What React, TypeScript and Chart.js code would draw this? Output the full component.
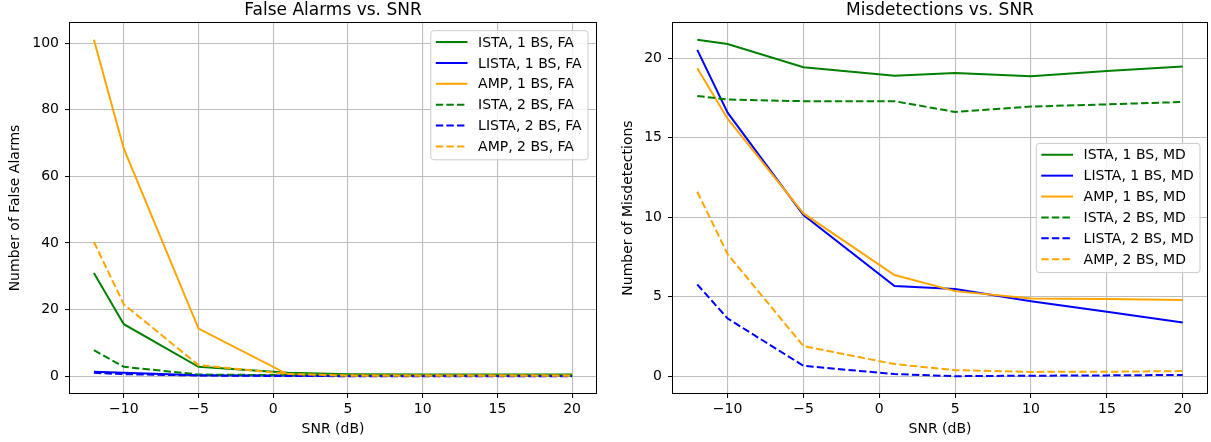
import React, { useEffect, useRef } from "react";
import { Chart, registerables } from "chart.js";

Chart.register(...registerables);

const FONT = "'DejaVu Sans', sans-serif";

// ---- data ----
const snr = [-12, -10, -5, 1, 5, 10, 15, 20];
const snrTicks = [-10, -5, 0, 5, 10, 15, 20];
const faTicks = [0, 20, 40, 60, 80, 100];
const mdTicks = [0, 5, 10, 15, 20];

const faLabels = ["ISTA, 1 BS, FA", "LISTA, 1 BS, FA", "AMP, 1 BS, FA", "ISTA, 2 BS, FA", "LISTA, 2 BS, FA", "AMP, 2 BS, FA"];
const mdLabels = ["ISTA, 1 BS, MD", "LISTA, 1 BS, MD", "AMP, 1 BS, MD", "ISTA, 2 BS, MD", "LISTA, 2 BS, MD", "AMP, 2 BS, MD"];

const istaFa1 = [31, 15.6, 2.8, 1.0, 0.6, 0.5, 0.5, 0.5];
const listaFa1 = [1.3, 1.0, 0.3, 0.2, 0.1, 0.1, 0.1, 0.1];
const ampFa1 = [101, 68.3, 14.3, 0.5, 0.3, 0.3, 0.3, 0.3];
const istaFa2 = [7.8, 2.8, 0.5, 0.3, 0.2, 0.2, 0.2, 0.2];
const listaFa2 = [1.0, 0.6, 0.2, 0.05, 0, 0, 0, 0];
const ampFa2 = [40.3, 21.6, 3.3, 0.7, 0.1, 0.1, 0.1, 0.1];

const istaMd1 = [21.16, 20.9, 19.44, 18.9, 19.08, 18.87, 19.2, 19.48];
const listaMd1 = [20.53, 16.58, 10.14, 5.67, 5.48, 4.72, 4.05, 3.38];
const ampMd1 = [19.37, 16.2, 10.24, 6.36, 5.35, 4.89, 4.85, 4.8];
const istaMd2 = [17.63, 17.4, 17.3, 17.3, 16.62, 16.96, 17.1, 17.25];
const listaMd2 = [5.77, 3.63, 0.65, 0.13, 0, 0.03, 0.05, 0.08];
const ampMd2 = [11.6, 7.68, 1.89, 0.76, 0.38, 0.27, 0.28, 0.32];

const seriesColors = ["#008000", "#0000ff", "#ffa500", "#008000", "#0000ff", "#ffa500"];
const seriesDashed = [false, false, false, true, true, true];

// ---- helpers ----
const fmt = (v: number) => String(v).replace("-", "\u2212");

function paddedRange(arrs: number[][]) {
  const all = arrs.flat();
  const mn = Math.min(...all);
  const mx = Math.max(...all);
  const p = (mx - mn) * 0.05;
  return [mn - p, mx + p];
}

const DASH = [7.4, 3.2];

const framePlugin = {
  id: "mplFrame",
  afterDatasetsDraw(chart: any) {
    const { ctx, chartArea: a } = chart;
    ctx.save();
    ctx.strokeStyle = "#000";
    ctx.lineWidth = 1;
    const l = Math.round(a.left) - 0.5;
    const t = Math.round(a.top) - 0.5;
    const r = Math.round(a.right) + 0.5;
    const b = Math.round(a.bottom) + 0.5;
    ctx.strokeRect(l, t, r - l, b - t);
    ctx.restore();
  },
};

const titlePlugin = {
  id: "mplTitle",
  afterDraw(chart: any, _args: any, opts: any) {
    const { ctx, chartArea: a } = chart;
    ctx.save();
    ctx.font = `17px ${FONT}`;
    ctx.fillStyle = "#000";
    ctx.textAlign = "center";
    ctx.textBaseline = "middle";
    ctx.fillText(opts.text, (a.left + a.right) / 2, opts.y);
    ctx.restore();
  },
};

const legendPlugin = {
  id: "mplLegend",
  afterDraw(chart: any, _args: any, opts: any) {
    const { ctx, chartArea: a } = chart;
    const ds = chart.data.datasets;
    ctx.save();
    ctx.font = `14px ${FONT}`;
    const tw = Math.max(...ds.map((d: any) => ctx.measureText(d.label).width));
    const padL = 5, lineLen = 31.7, gap = 10.6, padR = 6.3;
    const rowH = 20.9, padT = 11.3, padB = 13.3;
    const w = padL + lineLen + gap + tw + padR;
    const h = padT + rowH * (ds.length - 1) + padB;
    const x = a.right - opts.dx - w;
    const y = opts.loc === "upper right" ? a.top + opts.dy : (a.top + a.bottom) / 2 - h / 2;
    ctx.beginPath();
    ctx.roundRect(x, y, w, h, 3);
    ctx.fillStyle = "rgba(255,255,255,0.8)";
    ctx.fill();
    ctx.strokeStyle = "#cccccc";
    ctx.lineWidth = 1;
    ctx.stroke();
    ds.forEach((d: any, i: number) => {
      const ry = y + padT + i * rowH;
      ctx.beginPath();
      ctx.setLineDash(d.borderDash || []);
      ctx.strokeStyle = d.borderColor;
      ctx.lineWidth = 2;
      ctx.moveTo(x + padL, ry);
      ctx.lineTo(x + padL + lineLen, ry);
      ctx.stroke();
      ctx.setLineDash([]);
      ctx.fillStyle = "#000";
      ctx.textAlign = "left";
      ctx.textBaseline = "middle";
      ctx.fillText(d.label, x + padL + lineLen + gap, ry + 1);
    });
    ctx.restore();
  },
};

function makeConfig(p: {
  labels: string[];
  series: number[][];
  yTicks: number[];
  yTitle: string;
  title: string;
  yAxisWidth: number;
  yTitlePad: number;
  padRight: number;
  legend: any;
}) {
  const [ymin, ymax] = paddedRange(p.series);
  const [xmin, xmax] = paddedRange([snr]);
  const gridStyle = { color: "#bdbdbd", lineWidth: 1.1, tickColor: "#000", tickLength: 5, tickWidth: 1 };
  return {
    type: "line",
    data: {
      datasets: p.series.map((vals, i) => ({
        label: p.labels[i],
        data: snr.map((x, j) => ({ x, y: vals[j] })),
        borderColor: seriesColors[i],
        backgroundColor: seriesColors[i],
        borderWidth: 2,
        borderDash: seriesDashed[i] ? DASH : [],
        pointRadius: 0,
        tension: 0,
        fill: false,
        order: -i,
      })),
    },
    options: {
      animation: false,
      responsive: true,
      maintainAspectRatio: false,
      layout: { padding: { top: 23, right: p.padRight, left: 0, bottom: 0 } },
      plugins: {
        legend: { display: false },
        tooltip: { enabled: false },
        title: { display: false },
        mplTitle: { text: p.title, y: 11 },
        mplLegend: p.legend,
      },
      scales: {
        x: {
          type: "linear",
          min: xmin,
          max: xmax,
          afterFit: (s: any) => { s.height = 49; },
          afterBuildTicks: (s: any) => { s.ticks = snrTicks.map((v) => ({ value: v })); },
          ticks: {
            callback: (v: number) => fmt(v),
            color: "#000",
            font: { family: FONT, size: 14 },
            padding: 3,
            maxRotation: 0,
            autoSkip: false,
          },
          grid: gridStyle,
          border: { display: false },
          title: { display: true, text: "SNR (dB)", color: "#000", font: { family: FONT, size: 14 }, padding: { top: 4.6, bottom: 4.6 } },
        },
        y: {
          type: "linear",
          min: ymin,
          max: ymax,
          afterFit: (s: any) => { s.width = p.yAxisWidth; },
          afterBuildTicks: (s: any) => { s.ticks = p.yTicks.map((v) => ({ value: v })); },
          ticks: {
            callback: (v: number) => fmt(v),
            color: "#000",
            font: { family: FONT, size: 14 },
            padding: 6,
            autoSkip: false,
          },
          grid: gridStyle,
          border: { display: false },
          title: { display: true, text: p.yTitle, color: "#000", font: { family: FONT, size: 14 }, padding: { top: p.yTitlePad, bottom: 4 } },
        },
      },
    },
    plugins: [framePlugin, titlePlugin, legendPlugin],
  };
}

function Panel({ left, width, config }: { left: number; width: number; config: any }) {
  const ref = useRef<HTMLCanvasElement | null>(null);
  useEffect(() => {
    if (!ref.current) return;
    const chart = new Chart(ref.current, config);
    return () => chart.destroy();
  }, []);
  return (
    <div style={{ position: "absolute", left, top: 0, width, height: 442 }}>
      <canvas ref={ref} />
    </div>
  );
}

export default function App() {
  const faCfg = makeConfig({
    labels: faLabels,
    series: [istaFa1, listaFa1, ampFa1, istaFa2, listaFa2, ampFa2],
    yTicks: faTicks,
    yTitle: "Number of False Alarms",
    title: "False Alarms vs. SNR",
    yAxisWidth: 70,
    yTitlePad: 6.6,
    padRight: 9,
    legend: { loc: "upper right", dx: 8, dy: 7.7 },
  });
  const mdCfg = makeConfig({
    labels: mdLabels,
    series: [istaMd1, listaMd1, ampMd1, istaMd2, listaMd2, ampMd2],
    yTicks: mdTicks,
    yTitle: "Number of Misdetections",
    title: "Misdetections vs. SNR",
    yAxisWidth: 68,
    yTitlePad: 14.9,
    padRight: 4,
    legend: { loc: "center right", dx: 7, dy: 0 },
  });
  return (
    <div style={{ position: "fixed", left: 0, top: 0, width: 1211, height: 442, background: "#fff" }}>
      <Panel left={0} width={605} config={faCfg} />
      <Panel left={605} width={606} config={mdCfg} />
    </div>
  );
}
